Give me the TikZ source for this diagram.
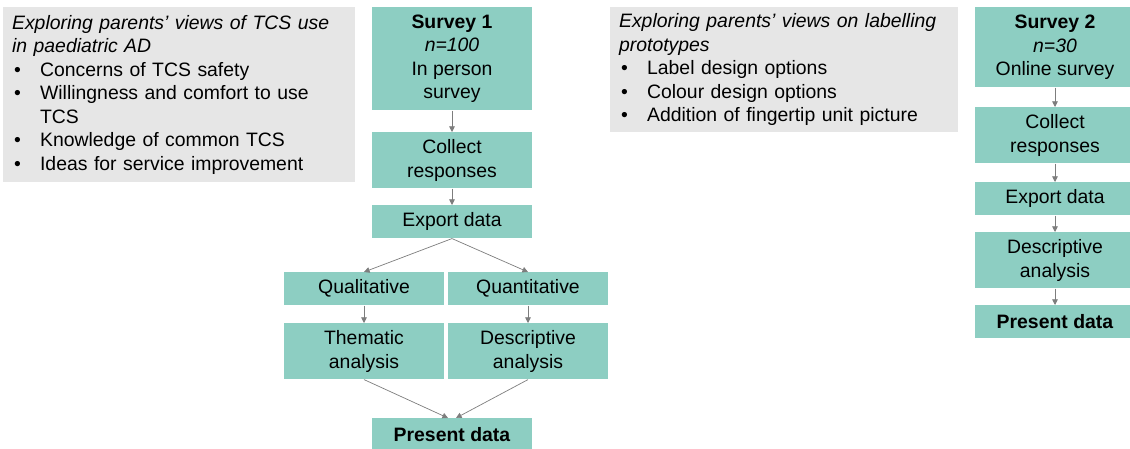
\documentclass[tikz,border=0pt]{standalone}
\usepackage{fontspec}
\setmainfont{Liberation Sans}
\usetikzlibrary{positioning,arrows.meta,calc}
\definecolor{StepTeal}{RGB}{141,206,194}
\definecolor{NoteGrey}{RGB}{230,230,230}
\definecolor{LinkGrey}{RGB}{125,125,125}
\newcommand{\bul}{\makebox[0.7cm][l]{\hspace{0.05cm}\textbullet}}

\begin{document}
\begin{tikzpicture}[x=0.025cm, y=-0.025cm,
    every node/.style={font=\fontsize{13.8}{16.7}\selectfont},
    stepbox/.style={fill=StepTeal, align=center, inner sep=0pt, minimum width=4cm, anchor=north},
    notebox/.style={fill=NoteGrey, align=left, anchor=north west, inner xsep=0.22cm, inner ysep=0pt},
    link/.style={-{Triangle[length=4pt,width=4pt]}, LinkGrey, line width=0.5pt}]
  \useasboundingbox (0,0) rectangle (1130,448);
  % survey 1 column
  \node[notebox, text width=8.36cm, minimum height=4.375cm] (aimsA) at (3,7) {\textit{Exploring parents’ views of TCS use}\\\textit{in paediatric AD}\\\bul Concerns of TCS safety\\\bul Willingness and comfort to use\\\hspace*{0.7cm}TCS\\\bul Knowledge of common TCS\\\bul Ideas for service improvement};
  \node[stepbox, minimum height=2.575cm] (surveyA) at (452,7) {\textbf{Survey 1}\\\textit{n=100}\\In person\\survey};
  \node[stepbox, minimum height=1.4cm] (collectA) at (452,132) {Collect\\responses};
  \node[stepbox, minimum height=0.825cm] (exportA) at (452,205) {Export data};
  \node[stepbox, minimum height=0.825cm] (qual) at (364,272) {Qualitative};
  \node[stepbox, minimum height=0.825cm] (quant) at (528,272) {Quantitative};
  \node[stepbox, minimum height=1.4cm] (thematic) at (364,323) {Thematic\\analysis};
  \node[stepbox, minimum height=1.4cm] (descA) at (528,323) {Descriptive\\analysis};
  \node[stepbox, minimum height=0.825cm] (presentA) at (452,418) {\textbf{Present data}};
  \draw[link] (surveyA) -- (collectA);
  \draw[link] (collectA) -- (exportA);
  \draw[link] (exportA.south) -- (qual.north);
  \draw[link] (exportA.south) -- (quant.north);
  \draw[link] (qual) -- (thematic);
  \draw[link] (quant) -- (descA);
  \draw[link] (thematic.south) -- ($(presentA.north)+(-4,0)$);
  \draw[link] (descA.south) -- ($(presentA.north)+(4,0)$);
  % survey 2 column
  \node[notebox, text width=8.26cm, minimum height=3.125cm] (aimsB) at (610,7) {\textit{Exploring parents’ views on labelling}\\\textit{prototypes}\\\bul Label design options\\\bul Colour design options\\\bul Addition of fingertip unit picture};
  \node[stepbox, minimum height=2cm] (surveyB) at (1055,7) {\textbf{Survey 2}\\\textit{n=30}\\Online survey};
  \node[stepbox, minimum height=1.4cm] (collectB) at (1055,107) {Collect\\responses};
  \node[stepbox, minimum height=0.825cm] (exportB) at (1055,182) {Export data};
  \node[stepbox, minimum height=1.4cm] (descB) at (1055,232) {Descriptive\\analysis};
  \node[stepbox, minimum height=0.825cm] (presentB) at (1055,305) {\textbf{Present data}};
  \draw[link] (surveyB) -- (collectB);
  \draw[link] (collectB) -- (exportB);
  \draw[link] (exportB) -- (descB);
  \draw[link] (descB) -- (presentB);
\end{tikzpicture}
\end{document}
